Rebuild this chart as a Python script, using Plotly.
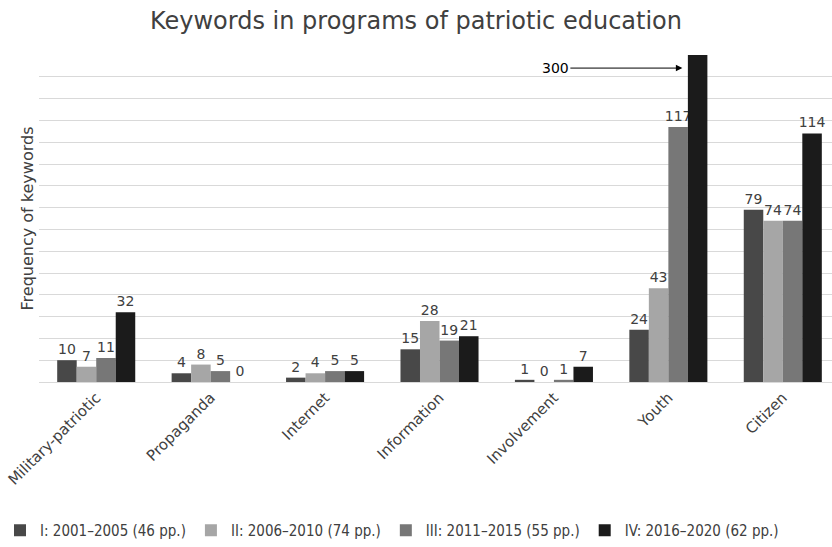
import plotly.graph_objects as go

categories = ["Military-patriotic", "Propaganda", "Internet", "Information",
              "Involvement", "Youth", "Citizen"]
series_names = ["I: 2001–2005 (46 pp.)", "II: 2006–2010 (74 pp.)",
                "III: 2011–2015 (55 pp.)", "IV: 2016–2020 (62 pp.)"]
period_I = [10, 4, 2, 15, 1, 24, 79]
period_II = [7, 8, 4, 28, 0, 43, 74]
period_III = [11, 5, 5, 19, 1, 117, 74]
period_IV = [32, 0, 5, 21, 7, 300, 114]
colors = ["#484848", "#a6a6a6", "#777777", "#1b1b1b"]

y_max = 150
fig = go.Figure()
for name, vals, col in zip(series_names, [period_I, period_II, period_III, period_IV], colors):
    fig.add_trace(go.Bar(
        x=categories, y=vals, name=name, marker_color=col,
        marker_line_width=0,
        text=[str(v) if v <= y_max else "" for v in vals],
        textposition="outside", cliponaxis=False, constraintext="none",
        textfont=dict(family="DejaVu Sans", size=14, color="#404040"),
    ))

fig.add_annotation(
    x=5, xshift=14, y=144, xref="x", yref="y",
    text="300", showarrow=True, arrowhead=2, arrowsize=1.3, arrowwidth=1,
    arrowcolor="#000000", ax=-127, ay=0,
    font=dict(family="DejaVu Sans", size=14, color="#000000"),
)

fig.update_layout(
    width=832, height=547,
    margin=dict(l=39, r=0, t=55, b=165, autoexpand=False),
    paper_bgcolor="white", plot_bgcolor="white",
    title=dict(text="Keywords in programs of patriotic education",
               x=0.5, xanchor="center", y=0.963, yanchor="middle",
               font=dict(family="DejaVu Sans", size=24, color="#404040")),
    barmode="group", bargap=0.318, bargroupgap=0,
    showlegend=True,
    legend=dict(orientation="h", xref="container", x=0, xanchor="left",
                yref="container", y=0, yanchor="bottom",
                font=dict(family="DejaVu Sans Condensed, DejaVu Sans", size=15, color="#404040"),
                itemwidth=30, tracegroupgap=0),
    xaxis=dict(tickangle=-45, showline=True, linecolor="#d9d9d9", linewidth=1,
               range=[-0.5, 6.43], automargin=False,
               ticks="", tickfont=dict(family="DejaVu Sans", size=15, color="#404040")),
    yaxis=dict(range=[0, y_max], dtick=10, showticklabels=False, ticks="",
               automargin=False,
               showgrid=True, gridcolor="#d9d9d9", gridwidth=1, zeroline=False,
               title=dict(text="Frequency of keywords", standoff=0,
                          font=dict(family="DejaVu Sans", size=16, color="#404040"))),
)

fig.write_html("out.html")
